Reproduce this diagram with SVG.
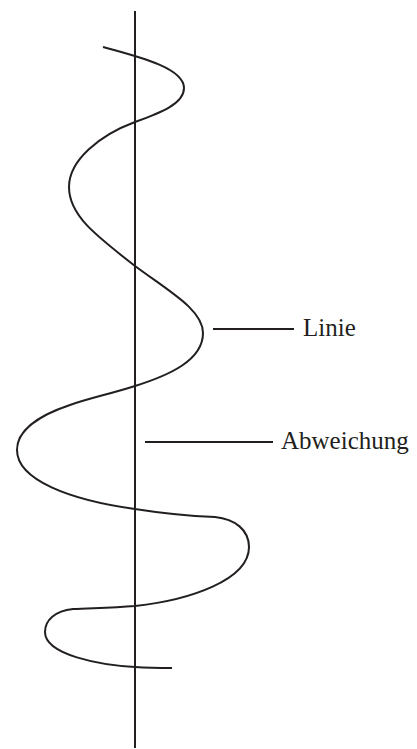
<svg xmlns="http://www.w3.org/2000/svg" width="417" height="749" viewBox="0 0 417 749">
<style>
.ln{stroke:#231f20;stroke-width:2;fill:none}
.lbl{font-family:"Liberation Serif",serif;font-size:25px;fill:#231f20}
</style>
<rect width="417" height="749" fill="#fff"/>
<g id="axis"><line class="ln" x1="135" y1="11" x2="135" y2="748"/></g>
<g id="wave"><path class="ln" d="M103,47 C140,57 184,68 184,88 C184,104 160,113 135,122 C100,135 69,160 69,187 C69,215 95,235 135,266 C170,292 203,310 203,333 C203,360 170,375 135,386 C110,394 90,398 70,405 C40,415 17,430 17,450 C17,480 70,500 135,509 C160,513 190,516 215,517 C235,519 249,530 249,547 C249,580 190,600 135,606 C110,608 90,608 73,609 C55,611 45,620 45,632 C45,655 100,665 135,667 C150,668 160,668 172,668"/></g>
<g id="connectors">
<line class="ln" x1="213" y1="329" x2="294" y2="329"/>
<line class="ln" x1="145" y1="442" x2="273" y2="442"/>
</g>
<g id="label-linie"><text class="lbl" x="303" y="336">Linie</text></g>
<g id="label-abweichung"><text class="lbl" x="281" y="449">Abweichung</text></g>
</svg>
